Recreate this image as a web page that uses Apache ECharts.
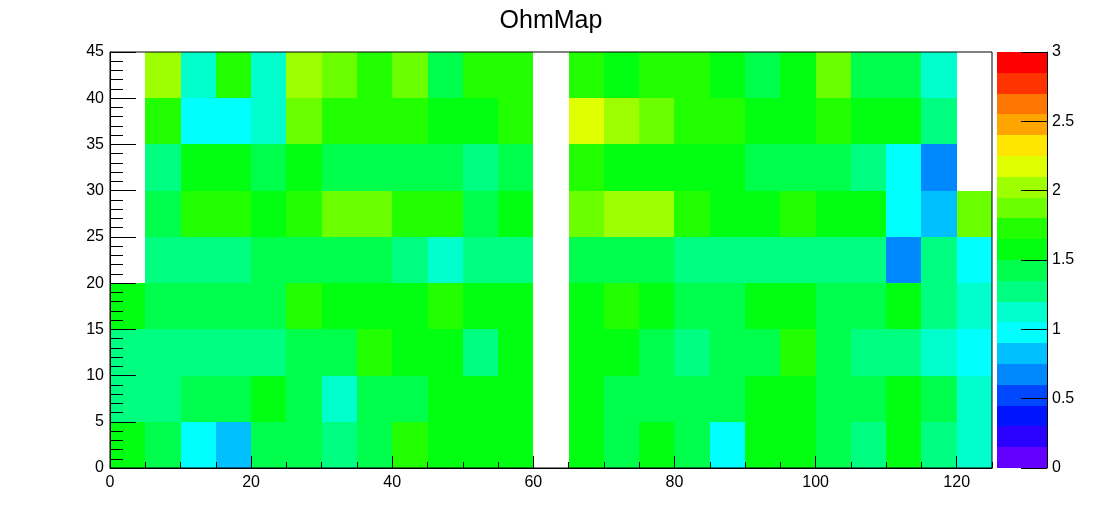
<!DOCTYPE html>
<html>
<head>
<meta charset="utf-8">
<script src="https://cdn.jsdelivr.net/npm/echarts@6/dist/echarts.min.js"></script>
<style>
html,body{margin:0;padding:0;background:#fff;}
#main{width:1102px;height:522px;}
</style>
</head>
<body>
<div id="main"></div>
<script>
// ---- DATA ----
const titleText = 'OhmMap';
const xBinStarts = [0,5,10,15,20,25,30,35,40,45,50,55,60,65,70,75,80,85,90,95,100,105,110,115,120];
const yBinStarts = [0,5,10,15,20,25,30,35,40];
const binWidth = 5;
// cell values per y-bin row (bottom to top), null = empty bin
const row0 = [1.58,1.43,0.98,0.83,1.43,1.43,1.28,1.43,1.73,1.58,1.58,1.58,null,1.58,1.43,1.58,1.43,0.98,1.58,1.58,1.43,1.28,1.58,1.28,1.13];
const row1 = [1.28,1.28,1.43,1.43,1.58,1.43,1.13,1.43,1.43,1.58,1.58,1.58,null,1.58,1.43,1.43,1.43,1.43,1.58,1.58,1.43,1.43,1.58,1.43,1.13];
const row2 = [1.28,1.28,1.28,1.28,1.28,1.43,1.43,1.73,1.58,1.58,1.28,1.58,null,1.58,1.58,1.43,1.28,1.43,1.43,1.73,1.43,1.28,1.28,1.13,0.98];
const row3 = [1.58,1.43,1.43,1.43,1.43,1.73,1.58,1.58,1.58,1.73,1.58,1.58,null,1.58,1.73,1.58,1.43,1.43,1.58,1.58,1.43,1.43,1.58,1.28,1.13];
const row4 = [null,1.28,1.28,1.28,1.43,1.43,1.43,1.43,1.28,1.13,1.28,1.28,null,1.43,1.43,1.43,1.28,1.28,1.28,1.28,1.28,1.28,0.68,1.28,0.98];
const row5 = [null,1.43,1.73,1.73,1.58,1.73,1.88,1.88,1.73,1.73,1.43,1.58,null,1.88,2.03,2.03,1.73,1.58,1.58,1.73,1.58,1.58,0.98,0.83,1.88];
const row6 = [null,1.28,1.58,1.58,1.43,1.58,1.43,1.43,1.43,1.43,1.28,1.43,null,1.73,1.58,1.58,1.58,1.58,1.43,1.43,1.43,1.28,0.98,0.68,null];
const row7 = [null,1.73,0.98,0.98,1.13,1.88,1.73,1.73,1.73,1.58,1.58,1.73,null,2.18,2.03,1.88,1.73,1.73,1.58,1.58,1.73,1.58,1.58,1.28,null];
const row8 = [null,2.03,1.13,1.73,1.13,2.03,1.88,1.73,1.88,1.43,1.73,1.73,null,1.73,1.58,1.73,1.73,1.58,1.43,1.58,1.88,1.43,1.43,1.13,null];
const rows = [row0,row1,row2,row3,row4,row5,row6,row7,row8];
const xTickLabels = [0,20,40,60,80,100,120];
const yTickLabels = [0,5,10,15,20,25,30,35,40,45];
const zTickLabels = [0,0.5,1,1.5,2,2.5,3];
const zMin = 0, zMax = 3, nLevels = 20;

// ---- STYLE ----
const palette = ['#6400ff','#2a00ff','#0014ff','#0048ff','#0088ff','#00c0ff','#00ffff','#00ffcc','#00ff80','#00ff4d',
                 '#00ff10','#22ff00','#6cff00','#9eff00','#e0ff00','#ffe600','#ffa500','#ff7700','#ff3300','#ff0000'];
const font = 'Liberation Sans, Arial, Helvetica, sans-serif';

// ---- BUILD ----
const cells = [];
rows.forEach((r, j) => r.forEach((v, i) => {
  if (v !== null) cells.push([xBinStarts[i], yBinStarts[j], v]);
}));
const levelStep = (zMax - zMin) / nLevels;
const pieces = palette.map((c, i) => ({gte: zMin + i * levelStep, lt: zMin + (i + 1) * levelStep, color: c}));
const levels = palette.map((c, i) => [i]);

const chart = echarts.init(document.getElementById('main'), null, {renderer: 'canvas'});
chart.setOption({
  backgroundColor: '#fff',
  animation: false,
  title: {text: titleText, left: 'center', top: 4,
          textStyle: {fontFamily: font, fontSize: 25, fontWeight: 'normal', color: '#000'}},
  grid: [
    {left: 110, top: 52, width: 882, height: 416, show: true, borderColor: '#000', borderWidth: 1, z: 10, backgroundColor: 'transparent'},
    {left: 997, top: 52, width: 50, height: 416, show: false}
  ],
  visualMap: {type: 'piecewise', show: false, seriesIndex: 0, dimension: 2, pieces: pieces},
  xAxis: [
    {type: 'value', gridIndex: 0, min: 0, max: 125, interval: 20, position: 'bottom', z: 10,
     axisLine: {show: true, onZero: false, lineStyle: {color: '#000', width: 1}},
     axisTick: {show: true, inside: true, length: 12, lineStyle: {color: '#000'}},
     axisLabel: {show: true, fontFamily: font, fontSize: 16, color: '#000', margin: 7, showMaxLabel: false,
                 formatter: v => xTickLabels.includes(v) ? String(v) : ''},
     splitLine: {show: false}},
    {type: 'value', gridIndex: 0, min: 0, max: 125, interval: 5, position: 'bottom', z: 10,
     axisLine: {show: false, onZero: false},
     axisTick: {show: true, inside: true, length: 6, lineStyle: {color: '#000'}},
     axisLabel: {show: false}, splitLine: {show: false}},
    {type: 'value', gridIndex: 1, min: 0, max: 1, show: false, axisLine: {onZero: false}}
  ],
  yAxis: [
    {type: 'value', gridIndex: 0, min: 0, max: 45, interval: 5, z: 10,
     axisLine: {show: true, onZero: false, lineStyle: {color: '#000', width: 1}},
     axisTick: {show: true, inside: true, length: 26, lineStyle: {color: '#000'}},
     minorTick: {show: true, splitNumber: 5, length: 13, lineStyle: {color: '#000'}},
     axisLabel: {fontFamily: font, fontSize: 16, color: '#000', margin: 6,
                 formatter: v => yTickLabels.includes(v) ? String(v) : ''},
     splitLine: {show: false}, minorSplitLine: {show: false}},
    {type: 'value', gridIndex: 1, min: zMin, max: zMax, interval: 0.5, position: 'right', z: 10,
     axisLine: {show: true, onZero: false, lineStyle: {color: '#000', width: 1}},
     axisTick: {show: true, inside: true, length: 26, lineStyle: {color: '#000'}},
     axisLabel: {fontFamily: font, fontSize: 16, color: '#000', margin: 5,
                 formatter: v => zTickLabels.includes(v) ? String(v) : ''},
     splitLine: {show: false}}
  ],
  series: [
    {type: 'custom', xAxisIndex: 0, yAxisIndex: 0, data: cells, encode: {x: 0, y: 1},
     renderItem: function (params, api) {
       const x0 = api.value(0), y0 = api.value(1);
       const p0 = api.coord([x0, y0]);
       const p1 = api.coord([x0 + binWidth, y0 + binWidth]);
       return {type: 'rect',
               shape: {x: Math.round(p0[0]), y: Math.round(p1[1]),
                       width: Math.round(p1[0]) - Math.round(p0[0]), height: Math.round(p0[1]) - Math.round(p1[1])},
               style: {fill: api.visual('color')}};
     }},
    {type: 'custom', xAxisIndex: 2, yAxisIndex: 1, data: levels, encode: {y: 0}, z: 1,
     renderItem: function (params, api) {
       const i = api.value(0);
       const p0 = api.coord([0, zMin + i * levelStep]);
       const p1 = api.coord([1, zMin + (i + 1) * levelStep]);
       return {type: 'rect',
               shape: {x: Math.round(p0[0]), y: Math.round(p1[1]),
                       width: Math.round(p1[0]) - Math.round(p0[0]), height: Math.round(p0[1]) - Math.round(p1[1])},
               style: {fill: palette[i]}};
     }}
  ]
});
</script>
</body>
</html>
